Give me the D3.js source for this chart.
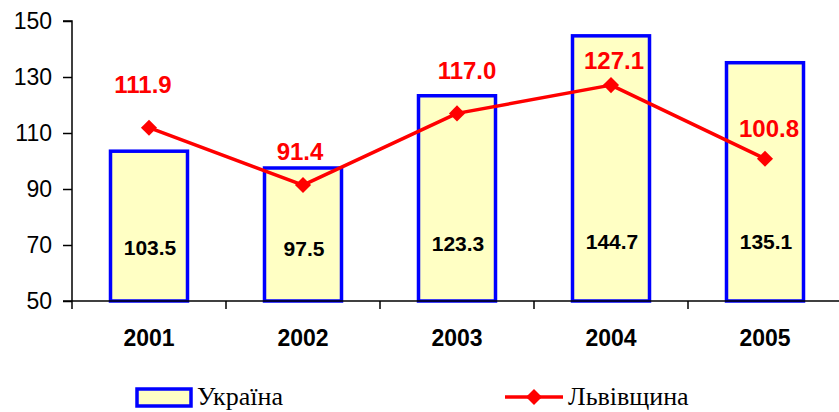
<!DOCTYPE html>
<html><head><meta charset="utf-8">
<script src="https://cdn.jsdelivr.net/npm/d3@7"></script>
<style>
html,body{margin:0;padding:0;background:#fff;}
svg{display:block;}
</style></head>
<body>
<svg id="chart" width="839" height="412"></svg>
<script>
// ---- data ----
const years = ["2001", "2002", "2003", "2004", "2005"];
const ukraine = [103.5, 97.5, 123.3, 144.7, 135.1];
const lviv = [111.9, 91.4, 117.0, 127.1, 100.8];
const yTicks = [50, 70, 90, 110, 130, 150];
const seriesNames = ["Україна", "Львівщина"];

// ---- label layout (manual placement as in the original) ----
const lvivLabelDx = [-6, -3, 10, 3, 4];
const lvivLabelDy = [-43, -34, -43, -25, -30];
const barLabelDy = [1, 2, -3, -5, -5];

const svg = d3.select("#chart");
const x0 = 72, x1 = 842, yTop = 21, yBot = 301;

const x = d3.scaleBand().domain(years).range([x0, x1]).paddingInner(0).paddingOuter(0);
const y = d3.scaleLinear().domain([50, 150]).range([yBot, yTop]);
const barW = x.bandwidth() * 0.5;

// bars
svg.append("g").selectAll("rect").data(ukraine).join("rect")
  .attr("x", (d, i) => x(years[i]) + (x.bandwidth() - barW) / 2)
  .attr("y", d => y(d))
  .attr("width", barW)
  .attr("height", d => y(50) - y(d))
  .attr("fill", "#FFFFC4")
  .attr("stroke", "#0000FF")
  .attr("stroke-width", 3.5);

// y axis
const yAxis = d3.axisLeft(y).tickValues(yTicks).tickSize(9).tickPadding(11).tickFormat(d3.format("d"));
const gy = svg.append("g").attr("transform", `translate(${x0},0)`).call(yAxis);
gy.select(".domain").attr("stroke", "#000").attr("stroke-width", 1.5).attr("d", `M-9,${yTop}H0V${yBot}`);
gy.selectAll(".tick line").attr("stroke", "#000").attr("stroke-width", 1.5);
gy.selectAll(".tick text").attr("font-family", "Liberation Sans, Arial, sans-serif").attr("font-size", 23).attr("fill", "#000");

// x axis
const xAxis = d3.axisBottom(x).tickSize(0).tickPadding(0);
const gx = svg.append("g").attr("transform", `translate(0,${yBot})`).call(xAxis);
gx.select(".domain").attr("stroke", "#000").attr("stroke-width", 1.5).attr("d", `M${x0 - 9},0H839`);
gx.selectAll(".tick text")
  .attr("font-family", "Liberation Sans, Arial, sans-serif")
  .attr("font-size", 23).attr("font-weight", "bold").attr("fill", "#000")
  .attr("dy", 0).attr("y", 45);
// category boundary ticks
gx.append("g").selectAll("line").data(years).join("line")
  .attr("x1", d => x(d)).attr("x2", d => x(d))
  .attr("y1", 0).attr("y2", 8)
  .attr("stroke", "#000").attr("stroke-width", 1.5);

// bar value labels
svg.append("g").selectAll("text").data(ukraine).join("text")
  .attr("x", (d, i) => x(years[i]) + x.bandwidth() / 2 + 1)
  .attr("y", (d, i) => y(69.5) + barLabelDy[i])
  .attr("dy", "0.36em")
  .attr("text-anchor", "middle")
  .attr("font-family", "Liberation Sans, Arial, sans-serif")
  .attr("font-size", 21).attr("font-weight", "bold").attr("fill", "#000")
  .text(d => d.toFixed(1));

// line
const line = d3.line().x((d, i) => x(years[i]) + x.bandwidth() / 2).y(d => y(d));
svg.append("path").datum(lviv)
  .attr("d", line).attr("fill", "none")
  .attr("stroke", "#FF0000").attr("stroke-width", 3.5).attr("stroke-linejoin", "round");

const diamond = d3.symbol().type(d3.symbolDiamond2).size(165);
svg.append("g").selectAll("path").data(lviv).join("path")
  .attr("transform", (d, i) => `translate(${x(years[i]) + x.bandwidth() / 2},${y(d)})`)
  .attr("d", diamond)
  .attr("fill", "#FF0000");

svg.append("g").selectAll("text").data(lviv).join("text")
  .attr("x", (d, i) => x(years[i]) + x.bandwidth() / 2 + lvivLabelDx[i])
  .attr("y", (d, i) => y(d) + lvivLabelDy[i])
  .attr("dy", "0.36em")
  .attr("text-anchor", "middle")
  .attr("font-family", "Liberation Sans, Arial, sans-serif")
  .attr("font-size", 24).attr("font-weight", "bold").attr("fill", "#FF0000")
  .text(d => d.toFixed(1));

// legend
const lg = svg.append("g");
lg.append("rect").attr("x", 137).attr("y", 389).attr("width", 54).attr("height", 17)
  .attr("fill", "#FFFFC4").attr("stroke", "#0000FF").attr("stroke-width", 3.5);
lg.append("text").attr("x", 197).attr("y", 405)
  .attr("font-family", "Liberation Serif, Times New Roman, serif").attr("font-size", 26).attr("fill", "#000")
  .text(seriesNames[0]);
lg.append("line").attr("x1", 505).attr("x2", 563).attr("y1", 397).attr("y2", 397)
  .attr("stroke", "#FF0000").attr("stroke-width", 3.5);
lg.append("path").attr("transform", "translate(534,397)").attr("d", diamond).attr("fill", "#FF0000");
lg.append("text").attr("x", 568).attr("y", 405)
  .attr("font-family", "Liberation Serif, Times New Roman, serif").attr("font-size", 26).attr("fill", "#000")
  .text(seriesNames[1]);
</script>
</body></html>
